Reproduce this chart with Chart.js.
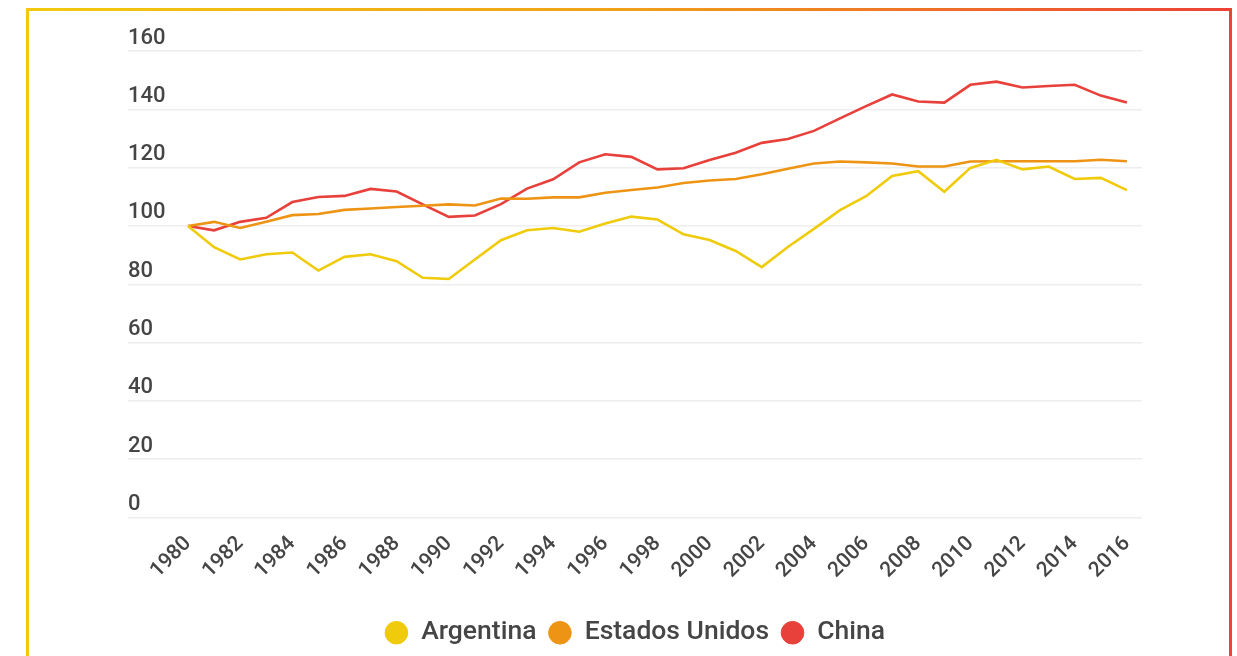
<!DOCTYPE html>
<html>
<head>
<meta charset="utf-8">
<script src="https://cdn.jsdelivr.net/npm/chart.js@4.4.1/dist/chart.umd.min.js"></script>
<style>
  html, body { margin: 0; padding: 0; background: #fff; overflow: hidden; }
  #wrap { position: relative; width: 1237px; height: 656px; }
  #frame {
    position: absolute; left: 26px; top: 8px; width: 1200px; height: 700px;
    border: 3px solid; border-image: linear-gradient(to right, #f2c90f, #f0a01a 50%, #ec4237) 1;
    pointer-events: none;
  }
  canvas { position: absolute; left: 0; top: 0; }
</style>
</head>
<body>
<div id="wrap">
  <canvas id="line-chart" width="1237" height="656"></canvas>
  <div id="frame"></div>
</div>
<script>
// years on the horizontal axis
const years = [];
for (let y = 1980; y <= 2016; y++) years.push(y);

// index values (1980 = 100)
const argentina = [100, 92.7, 88.5, 90.3, 90.9, 84.7, 89.4, 90.3, 87.9, 82.2,
  81.8, 88.5, 95.1, 98.5, 99.3, 98.0, 100.8, 103.2, 102.2, 97.1,
  95.2, 91.4, 85.9, 92.8, 99.0, 105.4, 110.2, 117.1, 118.8, 111.7,
  119.9, 122.7, 119.4, 120.4, 116.1, 116.5, 112.3];
const estadosUnidos = [100, 101.4, 99.3, 101.4, 103.7, 104.1, 105.5, 106.0, 106.5, 106.9,
  107.4, 107.0, 109.4, 109.3, 109.8, 109.8, 111.4, 112.3, 113.2, 114.7,
  115.6, 116.1, 117.7, 119.6, 121.4, 122.1, 121.8, 121.4, 120.4, 120.4,
  122.1, 122.2, 122.2, 122.2, 122.2, 122.7, 122.2];
const china = [100, 98.5, 101.4, 102.8, 108.2, 109.9, 110.3, 112.7, 111.8, 107.4,
  103.1, 103.6, 107.5, 112.8, 116.0, 121.8, 124.6, 123.7, 119.4, 119.8,
  122.6, 125.1, 128.5, 129.8, 132.6, 136.9, 141.1, 145.1, 142.7, 142.3,
  148.4, 149.5, 147.5, 148.0, 148.4, 144.7, 142.3];

// tick labels
const xTicks = [1980, 1982, 1984, 1986, 1988, 1990, 1992, 1994, 1996, 1998, 2000,
  2002, 2004, 2006, 2008, 2010, 2012, 2014, 2016];
const yTicks = [0, 20, 40, 60, 80, 100, 120, 140, 160];

const pts = arr => arr.map((v, i) => ({ x: years[i], y: v }));

const textColor = '#454545';

const chartCanvas = document.querySelector('#line-chart');

const lineChart = new Chart(chartCanvas, {
  type: 'line',
  data: {
    datasets: [
      { label: 'Argentina', data: pts(argentina), borderColor: '#efcb0b', backgroundColor: '#efcb0b' },
      { label: 'Estados Unidos', data: pts(estadosUnidos), borderColor: '#ee9414', backgroundColor: '#ee9414' },
      { label: 'China', data: pts(china), borderColor: '#e8403a', backgroundColor: '#e8403a' }
    ]
  },
  options: {
    responsive: false,
    animation: false,
    elements: {
      line: { borderWidth: 2.6, tension: 0 },
      point: { radius: 0 }
    },
    layout: {
      padding: { left: 128, right: 95, top: 51, bottom: 0 }
    },
    plugins: {
      tooltip: { enabled: false },
      legend: {
        position: 'bottom',
        labels: {
          usePointStyle: true,
          pointStyle: 'circle',
          boxWidth: 23,
          boxHeight: 16,
          padding: 12,
          color: textColor,
          font: { family: 'Roboto', size: 26.5, weight: '500' }
        }
      }
    },
    scales: {
      x: {
        type: 'linear',
        min: 1977.7,
        max: 2016.58,
        grid: { display: false },
        border: { display: false },
        afterBuildTicks: scale => { scale.ticks = xTicks.map(v => ({ value: v })); },
        afterFit: scale => { scale.height = 90; },
        ticks: {
          autoSkip: false,
          minRotation: 45,
          maxRotation: 45,
          padding: 6,
          color: textColor,
          font: { family: 'Roboto', size: 21, weight: '500' },
          callback: value => String(value)
        }
      },
      y: {
        min: 0,
        max: 160,
        grid: { color: '#eeeeee', lineWidth: 1.5, drawTicks: false },
        border: { display: false },
        afterBuildTicks: scale => { scale.ticks = yTicks.map(v => ({ value: v })); },
        ticks: {
          mirror: true,
          padding: 0,
          labelOffset: -13,
          color: textColor,
          font: { family: 'Roboto', size: 22, weight: '500' }
        }
      }
    }
  }
});
</script>
</body>
</html>
